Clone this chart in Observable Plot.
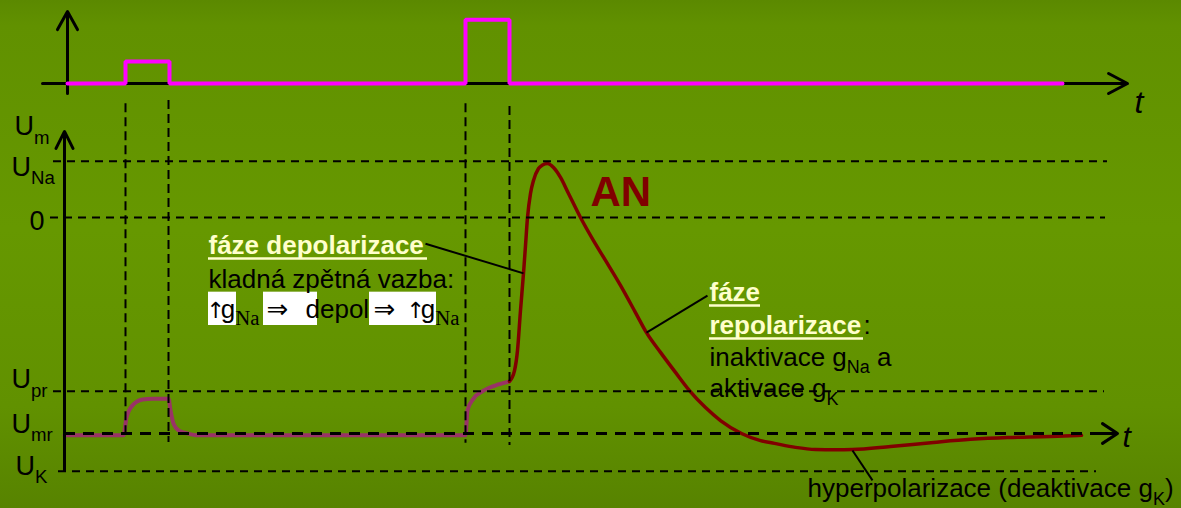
<!DOCTYPE html>
<html><head><meta charset="utf-8">
<script src="https://cdn.jsdelivr.net/npm/d3@7"></script>
<script src="https://cdn.jsdelivr.net/npm/@observablehq/plot@0.6"></script>
<style>
html,body{margin:0;padding:0;background:#5f8f00;}
#chart{position:relative;width:1181px;height:508px;overflow:hidden;
 background:linear-gradient(to bottom,#5b8900 0%,#619100 5%,#669800 45%,#619100 80%,#578300 100%);}
#chart svg{position:absolute;left:0;top:0;}
</style></head><body><div id="chart"></div>
<script>
// ---------- DATA (time t in ms, membrane voltage v in mV) ----------
// stimulus pulses (top panel, relative current)
const stimT = [0.3, 6.1, 10.5, 40.1, 44.5, 99.8];
const stimI = [0, 1, 0, 2.9, 0, 0];
const stimAxisT = [-2.2, 106.3];      // horizontal axis extent
const stimAxisI = [-0.45, 3.27];      // vertical axis extent

// subthreshold responses (local potentials)
const subT = [0, 5.9, 6.2, 6.8, 7.8, 8.8, 10.4, 10.6, 10.9, 11.4, 12.3, 13.3, 40.1, 40.3, 40.9, 41.9, 43.4, 44.5];
const subV = [-70.6, -70.6, -64.8, -60.9, -59.0, -58.7, -58.7, -62.5, -66.8, -69.0, -70.0, -70.6, -70.6, -62.5, -58.7, -56.1, -54.1, -53.1];

// action potential (AN)
const apT = [44.5, 45.0, 45.3, 45.6, 45.9, 46.1, 46.3, 46.6, 46.9, 47.4, 47.8, 48.3, 48.9, 49.6, 50.4, 51.6, 52.9, 54.1, 55.6, 57.1, 58.2, 59.6, 61.1, 62.5, 64.1, 65.6, 67.7, 69.6, 71.0, 73.1, 75.1, 77.1, 78.8, 82.6, 86.9, 90.6, 94.3, 98.6, 101.7];
const apV = [-53.1, -49.6, -43.1, -30.1, -18.1, -9.1, 0, 7.8, 12.0, 15.9, 17.0, 17.5, 16.2, 13.0, 7.8, 0, -7.5, -13.9, -22.0, -30.8, -37.3, -43.7, -50.2, -56.1, -61.6, -65.8, -70.0, -72.3, -73.2, -74.5, -75.2, -75.3, -75.2, -74.2, -72.9, -71.9, -71.3, -71.0, -70.6];

// reference levels
const levelNames = ["U_Na", "0", "U_pr", "U_K"];
const levelV = [18.2, 0, -56.3, -82.2];
const levelFrom = [-1.1, -1.4, -1.1, -0.6];
const levelTo = [104.3, 104.1, 104.0, 103.2];
const restV = -70.0;             // U_mr (time axis)
const restFrom = 0, restTo = 103.6;
const restArrowT = [103.8, 105.3, 103.8];
const restArrowV = [-66.8, -70.0, -73.2];
const vAxisV = [-82.0, 27.9];

// stimulus on/off markers
const markT = [6.1, 10.4, 40.1, 44.5];
const markTop = [36.9, 37.9, 36.9, 36.0];
const markBottom = [-71.3, -72.9, -73.2, -73.9];

// level labels
const levelLabels = ["U_{m}", "U_{Na}", "0", "U_{pr}", "U_{mr}", "U_{K}"];
const levelLabelT = [-5.0, -5.3, -3.5, -5.3, -5.3, -4.9];
const levelLabelV = [26.6, 13.6, -3.9, -55.4, -69.7, -83.5];

// annotation texts
const phaseTexts = ["fáze depolarizace", "fáze", "repolarizace"];
const phaseT = [14.4, 64.5, 64.5];
const phaseV = [-11.7, -26.9, -37.6];
const underlineT2 = [36.3, 69.6, 79.9];
const underlineV = [-13.3, -28.5, -39.2];

const bodyTexts = ["kladná zpětná vazba:", "depol", "inaktivace g_{Na} a", "aktivace g_{K}", ":", "hyperpolarizace (deaktivace g_{K})"];
const bodyT = [14.4, 24.1, 64.5, 64.5, 79.9, 74.3];
const bodyV = [-23.0, -32.7, -48.0, -58.3, -37.6, -90.7];

const formulaTexts = ["↑g_[Na]", "↑g_[Na]"];
const formulaT = [14.2, 34.2];
const implyTexts = ["⇒", "⇒"];
const implyT = [20.2, 30.9];
const formulaV = -32.7;
const boxT1 = [14.4, 19.9, 30.5];
const boxT2 = [17.2, 25.3, 37.2];
const boxV = [-24.2, -35.0];

const leaderT1 = [36.1, 64.3, 78.8];
const leaderV1 = [-8.5, -25.3, -75.5];
const leaderT2 = [45.9, 58.2, 80.8];
const leaderV2 = [-18.1, -37.3, -85.2];

const apLabel = "AN", apLabelT = 52.6, apLabelV = 3.6;
const timeLabel = "t";
const timeLabelTop = {t: 107.0, i: -1.32};
const timeLabelBottom = {t: 105.8, v: -74.5};

// ---------- RENDER ----------
const W = 1181, H = 508;
const SANS = "'Liberation Sans', Arial, 'DejaVu Sans', sans-serif";
const SYM = "'DejaVu Sans', sans-serif";
const SERIF = "'Liberation Serif', 'Times New Roman', serif";
const xs = {domain: [-6.4, 111.7], range: [0, W], axis: null};
const style = "background:transparent;overflow:visible;";
const zipObj = (keys, ...arrs) => arrs[0].map((_, i) => Object.fromEntries(keys.map((k, j) => [k, arrs[j][i]])));

const stim = zipObj(["t", "i"], stimT, stimI);
const sub = zipObj(["t", "v"], subT, subV);
const ap = zipObj(["t", "v"], apT, apV);
const levels = zipObj(["name", "v", "t1", "t2"], levelNames, levelV, levelFrom, levelTo);
const marksV = zipObj(["t", "top", "bottom"], markT, markTop, markBottom);
const lbls = zipObj(["s", "t", "v"], levelLabels, levelLabelT, levelLabelV);
const phases = zipObj(["s", "t", "v", "t2", "uv"], phaseTexts, phaseT, phaseV, underlineT2, underlineV);
const body = zipObj(["s", "t", "v"], bodyTexts, bodyT, bodyV);
const formula = zipObj(["s", "t"], formulaTexts, formulaT);
const imply = zipObj(["s", "t"], implyTexts, implyT);
const boxes = zipObj(["t1", "t2"], boxT1, boxT2);
const leaders = zipObj(["t1", "v1", "t2", "v2"], leaderT1, leaderV1, leaderT2, leaderV2);
const restArrow = zipObj(["t", "v"], restArrowT, restArrowV);

const topPlot = Plot.plot({
  width: W, height: H, style,
  x: xs,
  y: {domain: [0, 1], range: [83, 61], axis: null},
  marks: [
    Plot.arrow([0], {x1: stimAxisT[0], x2: stimAxisT[1], y1: 0, y2: 0, stroke: "black", strokeWidth: 3, headAngle: 56, headLength: 10.7}),
    Plot.arrow([0], {x1: stimT[0], x2: stimT[0], y1: stimAxisI[0], y2: stimAxisI[1], stroke: "black", strokeWidth: 3, headAngle: 58, headLength: 10.3}),
    Plot.line(stim, {x: "t", y: "i", curve: "step-after", stroke: "#ff00ff", strokeWidth: 4, strokeLinejoin: "miter"}),
    Plot.text([timeLabelTop], {x: "t", y: "i", text: () => timeLabel, fontSize: 32, fontStyle: "italic", fontFamily: SANS, fill: "black", textAnchor: "start", lineAnchor: "bottom"})
  ]
});

const lowPlot = Plot.plot({
  width: W, height: H, style,
  x: xs,
  y: {domain: [-70, 0], range: [433, 217], axis: null},
  marks: [
    Plot.rect(boxes, {x1: "t1", x2: "t2", y1: boxV[0], y2: boxV[1], fill: "white"}),
    Plot.line(sub, {x: "t", y: "v", curve: "monotone-x", stroke: "#993366", strokeWidth: 4}),
    Plot.line(ap, {x: "t", y: "v", curve: "monotone-x", stroke: "#800000", strokeWidth: 3.5}),
    Plot.ruleY(levels, {y: "v", x1: "t1", x2: "t2", stroke: "black", strokeWidth: 2, strokeDasharray: "8,6"}),
    Plot.ruleY([restV], {x1: restFrom, x2: restTo, stroke: "black", strokeWidth: 3, strokeDasharray: "11,8"}),
    Plot.line(restArrow, {x: "t", y: "v", stroke: "black", strokeWidth: 3}),
    Plot.ruleY([restV], {x1: restTo, x2: restArrowT[1], stroke: "black", strokeWidth: 3}),
    Plot.ruleX(marksV, {x: "t", y1: "top", y2: "bottom", stroke: "black", strokeWidth: 2, strokeDasharray: "9,5"}),
    Plot.arrow([0], {x1: 0, x2: 0, y1: vAxisV[0], y2: vAxisV[1], stroke: "black", strokeWidth: 3, headAngle: 53, headLength: 9.5}),
    Plot.link(leaders, {x1: "t1", y1: "v1", x2: "t2", y2: "v2", stroke: "black", strokeWidth: 2}),
    Plot.text(lbls, {x: "t", y: "v", text: "s", fontSize: 27, fontFamily: SANS, fill: "black", textAnchor: "start", lineAnchor: "bottom"}),
    Plot.text(phases, {x: "t", y: "v", text: "s", fontSize: 26, fontWeight: "bold", fontFamily: SANS, fill: "#ffffcc", textAnchor: "start", lineAnchor: "bottom"}),
    Plot.ruleY(phases, {y: "uv", x1: "t", x2: "t2", stroke: "#ffffcc", strokeWidth: 2.5}),
    Plot.text(body, {x: "t", y: "v", text: "s", fontSize: 26, fontFamily: SANS, fill: "black", textAnchor: "start", lineAnchor: "bottom"}),
    Plot.text(formula, {x: "t", y: formulaV, text: "s", fontSize: 26, fontFamily: SANS, fill: "black", textAnchor: "start", lineAnchor: "bottom"}),
    Plot.text(imply, {x: "t", y: formulaV, text: "s", fontSize: 26, fontFamily: SYM, fill: "black", textAnchor: "start", lineAnchor: "bottom"}),
    Plot.text([0], {x: apLabelT, y: apLabelV, text: () => apLabel, fontSize: 42, fontWeight: "bold", fontFamily: SANS, fill: "#800000", textAnchor: "start", lineAnchor: "bottom"}),
    Plot.text([timeLabelBottom], {x: "t", y: "v", text: () => timeLabel, fontSize: 30, fontStyle: "italic", fontFamily: SANS, fill: "black", textAnchor: "start", lineAnchor: "bottom"})
  ]
});

const chart = document.getElementById("chart");
chart.appendChild(topPlot);
chart.appendChild(lowPlot);

// turn _{..} (sans) / _[..] (serif) markers into subscript tspans; ↑ drawn in a symbol font
function richify(svg) {
  d3.select(svg).selectAll("text").each(function () {
    const s = this.textContent;
    if (!/_[\{\[]|↑/.test(s)) return;
    const fs = parseFloat(getComputedStyle(this).fontSize) || 26;
    const re = /_\{([^}]*)\}|_\[([^\]]*)\]|(↑)/g;
    const parts = []; let last = 0, m;
    while ((m = re.exec(s))) {
      if (m.index > last) parts.push({t: s.slice(last, m.index)});
      if (m[3]) parts.push({t: m[3], sym: true});
      else parts.push({t: m[1] != null ? m[1] : m[2], sub: true, serif: m[2] != null});
      last = re.lastIndex;
    }
    if (last < s.length) parts.push({t: s.slice(last)});
    this.textContent = "";
    let shift = 0;
    for (const p of parts) {
      const ts = d3.select(this).append("tspan").text(p.t);
      if (p.sym) {
        ts.attr("font-family", SYM).attr("font-size", fs * 0.85).attr("letter-spacing", -fs * 0.16);
      } else if (p.sub) {
        const d = p.serif ? fs * 0.27 : fs * 0.3;
        ts.attr("font-size", p.serif ? fs * 0.8 : fs * 0.69).attr("dy", d);
        if (p.serif) ts.attr("font-family", SERIF);
        shift = d;
      } else if (shift) { ts.attr("dy", -shift); shift = 0; }
    }
  });
}
richify(topPlot);
richify(lowPlot);
</script></body></html>
